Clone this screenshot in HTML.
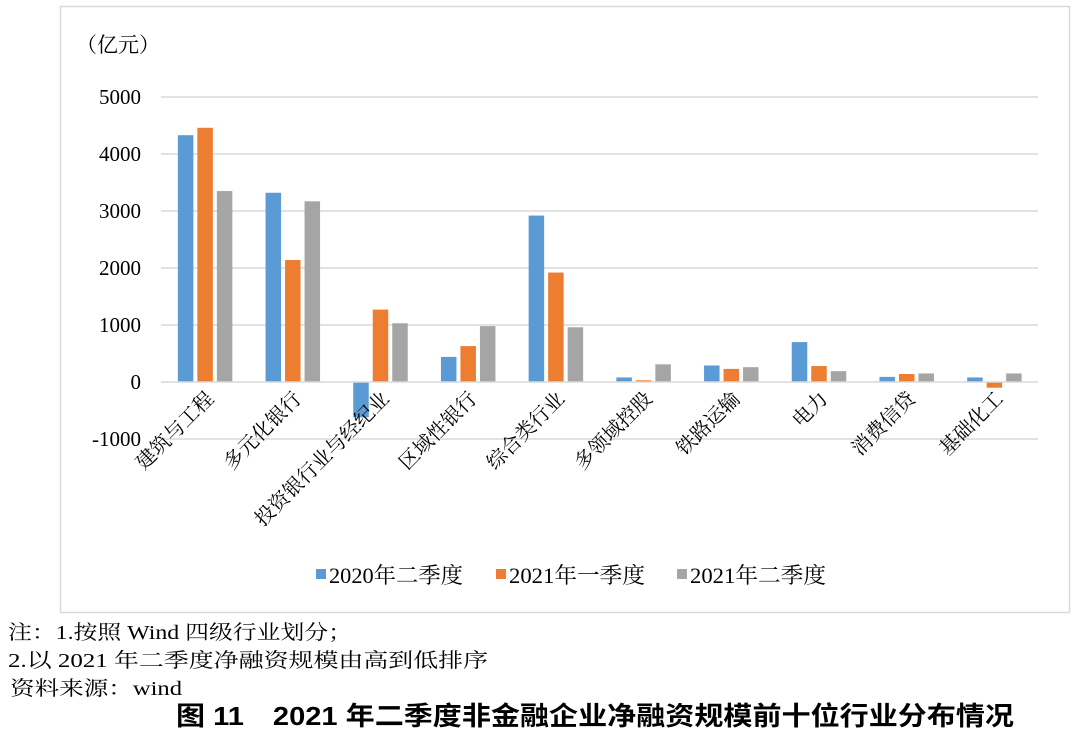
<!DOCTYPE html><html><head><meta charset="utf-8"><style>
body{margin:0;width:1080px;height:738px;background:#fff;overflow:hidden;font-family:"Liberation Serif","Noto Serif CJK SC",serif}
</style></head><body>
<svg width="1080" height="738" xmlns="http://www.w3.org/2000/svg" style="position:absolute;left:0;top:0">
<rect x="60.5" y="6.5" width="1009" height="606" fill="#fff" stroke="#d9d9d9" stroke-width="1.5"/>
<g font-family="Liberation Serif,Noto Serif CJK SC,serif" font-size="21" fill="#000">
<text x="76" y="52">（亿元）</text>
<g text-anchor="end">
<text x="141" y="104">5000</text><text x="141" y="161">4000</text><text x="141" y="218">3000</text>
<text x="141" y="275">2000</text><text x="141" y="332">1000</text><text x="141" y="389">0</text><text x="141" y="446">-1000</text>
</g></g>
<g stroke="#d9d9d9" stroke-width="1.5">
<line x1="161" x2="1038" y1="97" y2="97"/><line x1="161" x2="1038" y1="154" y2="154"/><line x1="161" x2="1038" y1="211" y2="211"/>
<line x1="161" x2="1038" y1="268" y2="268"/><line x1="161" x2="1038" y1="325" y2="325"/><line x1="161" x2="1038" y1="439" y2="439"/>
</g>
<g id="bars"></g>
<line x1="161" x2="1038" y1="382" y2="382" stroke="#d9d9d9" stroke-width="1.5"/>
<g id="labels" font-family="Liberation Serif,Noto Serif CJK SC,serif" font-size="20" text-anchor="end"></g>
<g font-family="Liberation Serif,Noto Serif CJK SC,serif" font-size="22">
<rect x="316" y="569" width="10" height="10" fill="#5b9bd5"/><text x="329" y="583" textLength="134" lengthAdjust="spacingAndGlyphs">2020年二季度</text>
<rect x="496" y="569" width="10" height="10" fill="#ed7d31"/><text x="509" y="583" textLength="136" lengthAdjust="spacingAndGlyphs">2021年一季度</text>
<rect x="677" y="569" width="10" height="10" fill="#a5a5a5"/><text x="690" y="583" textLength="136" lengthAdjust="spacingAndGlyphs">2021年二季度</text>
</g>
<g font-family="Liberation Serif,Noto Serif CJK SC,serif" font-size="20">
<text x="8" y="639" textLength="344" lengthAdjust="spacingAndGlyphs">注：1.按照 Wind 四级行业划分；</text>
<text x="8" y="667" textLength="480" lengthAdjust="spacingAndGlyphs">2.以 2021 年二季度净融资规模由高到低排序</text>
<text x="10" y="695" textLength="172" lengthAdjust="spacingAndGlyphs">资料来源：wind</text>
</g>
<text x="176" y="725" textLength="838" lengthAdjust="spacingAndGlyphs" font-family="Liberation Sans,Noto Sans CJK SC,sans-serif" font-size="26" font-weight="bold">图 11　2021 年二季度非金融企业净融资规模前十位行业分布情况</text>
</svg>
<script>
var d=[[4330,4460,3350],[3320,2140,3170],[-620,1270,1030],[440,630,980],[2920,1920,960],[80,30,310],[290,230,260],[700,280,190],[90,140,150],[80,-100,150]];
var n=["建筑与工程","多元化银行","投资银行业与经纪业","区域性银行","综合类行业","多领域控股","铁路运输","电力","消费信贷","基础化工"];
var c=["#5b9bd5","#ed7d31","#a5a5a5"],s="",t="",w=87.7;
d.forEach(function(r,i){var cx=161+w*(i+0.5);r.forEach(function(v,j){var x=cx-27+j*19.5,h=Math.abs(v)*0.057,y=v>=0?382-h:382;s+='<rect x="'+x+'" y="'+y+'" width="15.5" height="'+h+'" fill="'+c[j]+'"/>';});
t+='<text transform="translate('+(cx+10)+',400) rotate(-45)">'+n[i]+'</text>';});
document.getElementById("bars").innerHTML=s;document.getElementById("labels").innerHTML=t;
</script>
</body></html>
